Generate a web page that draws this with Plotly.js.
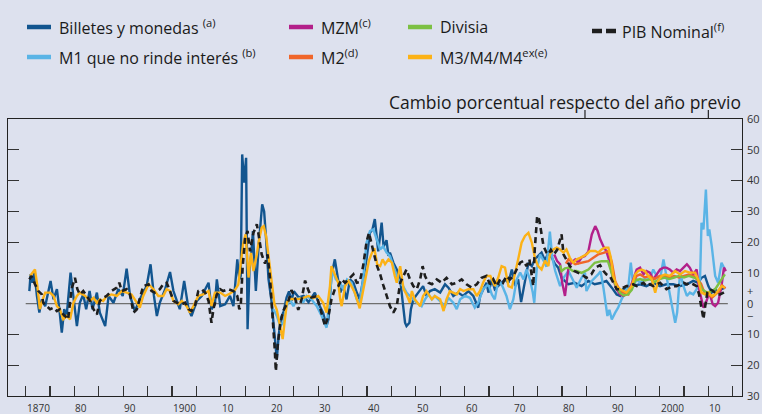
<!DOCTYPE html>
<html>
<head>
<meta charset="utf-8">
<script src="https://cdn.plot.ly/plotly-3.0.1.min.js"></script>
<style>html,body{margin:0;padding:0;background:#dde1ee;}#chart{width:762px;height:414px;}</style>
</head>
<body>
<div id="chart"></div>
<script>
// ---------- DATA ----------
const billetesYears = [1870.75,1871.0,1871.4,1871.8,1872.3,1872.8,1873.3,1874.0,1874.6,1875.1,1875.7,1876.4,1876.9,1877.4,1877.9,1878.4,1879.2,1879.8,1880.5,1881.1,1881.8,1882.4,1883.1,1883.7,1884.6,1885.2,1886.3,1887.0,1888.0,1889.0,1889.9,1890.7,1891.4,1892.4,1893.4,1894.8,1895.6,1896.3,1896.9,1897.5,1898.6,1899.6,1900.3,1901.6,1902.5,1903.4,1904.0,1905.1,1906.1,1907.5,1908.1,1908.8,1909.2,1909.9,1910.9,1911.9,1912.6,1913.4,1913.8,1914.1,1914.4,1914.8,1915.2,1915.5,1915.9,1916.3,1916.6,1917.2,1917.8,1918.5,1918.9,1919.3,1919.8,1920.4,1920.8,1921.2,1921.5,1921.9,1922.4,1922.9,1923.5,1924.0,1924.5,1925.0,1926.0,1927.0,1928.0,1929.3,1930.3,1931.0,1931.7,1932.1,1932.7,1933.4,1933.8,1934.5,1935.1,1935.8,1936.5,1937.2,1937.9,1938.5,1939.2,1939.9,1940.6,1941.1,1941.6,1942.3,1943.0,1943.4,1944.0,1944.4,1944.7,1945.4,1946.1,1946.8,1947.1,1947.8,1948.1,1948.7,1949.0,1949.5,1950.5,1951.5,1952.2,1952.9,1953.9,1955.0,1956.0,1956.7,1957.7,1958.7,1959.7,1960.8,1961.8,1962.8,1963.2,1963.8,1964.5,1964.9,1965.6,1966.2,1966.9,1967.6,1968.3,1969.0,1969.7,1970.4,1971.0,1971.6,1972.4,1973.1,1973.8,1974.4,1975.1,1975.8,1976.5,1977.2,1977.9,1978.5,1979.2,1979.9,1980.6,1981.3,1982.6,1984.0,1985.4,1986.7,1988.1,1989.1,1990.2,1991.2,1991.9,1992.5,1993.2,1994.6,1996.0,1997.3,1998.7,2000.1,2001.4,2002.8,2004.2,2005.6,2006.9,2007.9,2008.6,2009.3,2010.0,2010.7,2011.4,2012.0,2012.7,2013.4];
const billetesVals = [4.1,9.5,6.8,10.1,2.5,-2.9,1.4,-0.8,3.6,7.4,1.4,4.7,-1.8,-9.4,-1.8,-4.0,10.1,2.5,-7.3,0.3,3.0,-1.8,4.1,-1.8,3.6,-2.9,-7.3,2.5,0.3,4.7,2.5,11.4,2.5,-2.4,1.4,5.7,12.8,2.5,-4.0,0.3,4.7,10.3,4.1,-1.8,7.4,-1.8,-4.0,0.9,2.5,6.8,-1.8,-0.2,7.9,-0.8,-0.2,2.5,-0.8,14.4,7.9,9.0,48.5,39.3,47.4,-8.3,11.1,16.6,23.6,4.1,19.3,32.3,30,21,8,1,-7,-14,-18,-10,-4.5,-2.5,2,4,1,4,2,2.5,0.5,3.6,-0.8,-3,-7.3,-5,9,14.4,10,3.6,5.7,1.4,7.9,6.8,3.6,1.4,7.9,14.4,23,24,27.5,17,26.3,18.5,20.6,15.5,16.6,13.3,11.1,7.9,3.6,-6.2,-7.3,-6.2,-1.8,1.4,3.6,5.7,2.5,4.1,4.7,3.6,6.3,5.2,2.5,3.6,2.5,4.1,2.5,-1.3,2.5,4.7,6.8,3.6,7.9,4.7,5.7,6.8,7.9,6.8,11.1,5.7,7.9,0.5,7.9,13.3,12.2,14.4,15.5,16.6,14,16.6,14.9,13,11.7,8.4,7.3,6.3,6.8,5.7,7.4,6.3,6.8,7.4,5.2,3.0,2.5,4.7,5.2,5.7,6.3,5.7,6.8,5.7,6.3,6.3,5.7,6.3,7.4,6.8,8.4,9.0,5.7,3.6,4.7,3.6,4.7,5.2];

const m1Years = [1920.8,1921.5,1922.2,1922.8,1923.5,1924.2,1924.9,1925.6,1926.3,1926.9,1927.6,1928.6,1929.7,1930.7,1931.7,1932.4,1932.9,1933.6,1934.5,1935.1,1935.9,1936.8,1937.9,1938.5,1939.2,1939.9,1940.6,1941.3,1942.0,1942.7,1943.3,1944.0,1944.7,1945.4,1946.1,1946.8,1947.4,1948.1,1948.8,1949.5,1950.2,1951.2,1951.9,1952.6,1953.3,1953.9,1955.0,1956.0,1956.7,1957.7,1958.4,1959.1,1960.1,1961.1,1962.1,1962.8,1963.8,1964.9,1965.6,1966.2,1966.9,1967.6,1968.6,1969.3,1970.0,1970.7,1971.4,1972.1,1972.7,1973.4,1974.0,1974.3,1974.8,1975.5,1976.2,1976.8,1977.5,1978.0,1978.6,1979.6,1980.3,1981.3,1982.0,1983.0,1984.0,1984.7,1985.0,1986.1,1987.4,1987.9,1988.5,1988.9,1989.3,1989.7,1990.2,1990.9,1991.5,1992.2,1992.9,1993.6,1994.1,1994.6,1995.3,1996.0,1996.7,1997.3,1998.0,1998.7,1999.4,2000.1,2000.8,2001.4,2002.1,2002.8,2003.2,2003.6,2004.2,2004.9,2005.6,2006.2,2006.9,2007.6,2008.3,2008.6,2009.0,2009.5,2009.9,2010.2,2010.7,2011.4,2012.0,2012.7,2013.4];
const m1Vals = [-1.8,-4,-7.3,-6.2,-0.8,1.4,-0.8,1.4,1.9,0.3,2.5,1.4,-0.8,-4.0,-7.8,2.5,11.1,7.9,6.8,4.7,7.9,6.8,1.4,0.3,7.9,19.8,23.6,24.1,20.9,17.6,18.7,16.6,15.5,12.2,9.0,6.8,5.7,3.6,2.5,1.4,0.3,-0.8,1.4,3.0,1.4,2.5,0.9,-0.8,1.9,0.3,-1.8,1.4,2.5,1.9,-1.3,0.3,4.7,6.3,3.0,1.4,7.4,6.3,2.5,-1.8,1.4,7.9,10.1,7.9,11.1,7.9,3.6,0.3,11.1,16,14,12,23.4,15,10.6,5.7,8.4,10.6,8.4,5.2,8.4,10.1,4.1,7.4,9.5,10.5,5,0,-4,-2,-5.1,-2.9,-1.3,1.4,3.6,5.7,13.3,5.7,7.9,6.8,7.9,7.9,7.9,11.1,9.0,7.9,14.4,9.0,3.6,-2.9,-6.2,-2.9,10.1,5.7,2.5,3.6,3.0,4.7,7.9,26.3,24.1,37.1,22,24.1,18.7,9.0,6.8,13.3,11.1];

const mzmYears = [1978.4,1979.0,1979.6,1980.0,1980.6,1981.0,1981.3,1981.9,1982.7,1983.3,1984.0,1984.7,1985.4,1986.1,1986.8,1987.3,1987.8,1988.5,1989.1,1989.8,1990.5,1991.2,1991.9,1992.6,1993.6,1994.6,1995.3,1996.0,1996.7,1997.3,1998.0,1998.7,1999.4,2000.1,2000.8,2001.4,2002.1,2002.8,2003.5,2004.2,2004.9,2005.6,2006.2,2006.9,2007.6,2008.1,2008.6,2009.0,2009.5,2010.2,2010.9,2011.4,2012.0,2012.7,2013.2,2013.6];
const mzmVals = [16,13.8,12.8,7,2.5,8,11.5,13.3,14.4,13.3,15,15.5,17,22.5,25.2,23.6,21,18.5,17,13.3,7.9,4.7,3.0,2.5,3.6,7.9,11.1,11.7,9.5,10.6,10.1,7.9,9.5,11.1,11.7,11.7,11.1,10.1,11.1,10.6,11.7,12.8,11.7,9.5,11.1,4.7,1.4,-1.3,0.3,3.6,-0.2,-0.8,0.3,5.7,11.7,10.6];

const m2Years = [1980.8,1981.3,1982.7,1984.0,1985.4,1986.4,1987.4,1988.5,1989.5,1990.2,1990.9,1991.9,1992.6,1993.6,1994.6,1995.3,1996.0,1997.0,1998.0,1999.0,2000.0,2001.0,2002.0,2003.0,2004.0,2005.0,2006.0,2007.0,2007.8,2008.5,2009.2,2010.0,2010.8,2011.5,2012.2,2012.8,2013.5];
const m2Vals = [13,14.4,12.8,13.3,13.8,14.9,16,16.5,17.1,13.5,7.3,4.1,3.6,3.0,7.0,9.0,9.5,8.5,9.0,8.0,9.0,9.0,8.5,9.0,8.5,9.0,9.5,9.0,7.5,6.5,3.5,3.0,2.0,3.0,4.0,6.0,5.0];

const divisiaYears = [1979.6,1979.9,1980.6,1981.3,1982.2,1983.0,1984.0,1985.4,1986.7,1988.1,1989.4,1990.0,1990.9,1991.9,1992.6,1993.5,1994.3,1995.0,1996.0,1997.0,1998.0,1999.0,2000.0,2001.0,2002.0,2003.0,2004.0,2005.0,2006.0,2007.0,2007.9,2008.7,2009.7,2010.5,2011.4,2012.7,2013.4];
const divisiaVals = [12.5,10.6,11.5,11.7,10.6,10.6,10,11.1,13.3,13.8,13.8,11,6.3,3.5,2.7,3.0,4.5,7.5,8.0,7.5,8.0,7.0,8.0,8.5,8.0,8.5,9.0,8.5,9.0,8.5,7.9,4.7,3.6,4.0,4.7,7.9,9.5];

const m3Years = [1870.9,1871.6,1871.9,1872.4,1872.9,1873.5,1874.0,1875.0,1875.7,1876.4,1877.0,1877.7,1878.4,1879.1,1879.8,1880.5,1881.1,1882.2,1883.2,1883.9,1884.6,1885.2,1885.9,1886.6,1887.6,1888.7,1889.7,1890.7,1891.7,1892.8,1893.4,1894.1,1895.2,1896.2,1897.2,1898.2,1898.9,1899.6,1900.3,1901.3,1902.0,1903.0,1903.7,1904.4,1905.4,1906.4,1907.5,1908.1,1908.8,1909.9,1910.9,1911.9,1912.9,1913.6,1914.1,1914.6,1915.1,1915.7,1916.2,1916.7,1917.4,1917.8,1918.4,1918.8,1919.3,1920.0,1920.5,1921.0,1921.5,1922.1,1922.7,1923.2,1923.6,1924.2,1925.0,1925.9,1926.9,1928.0,1929.0,1930.0,1931.0,1931.7,1932.4,1932.7,1933.4,1934.1,1934.5,1934.8,1935.5,1936.2,1936.8,1937.5,1938.5,1939.2,1939.9,1940.4,1941.0,1941.5,1942.1,1942.7,1943.2,1943.7,1944.4,1945.1,1945.7,1946.1,1946.8,1947.5,1948.1,1948.8,1949.2,1949.8,1950.9,1951.5,1952.2,1953.3,1953.9,1955.0,1955.7,1956.3,1957.0,1957.7,1958.4,1959.1,1959.8,1960.8,1961.8,1962.5,1963.2,1963.8,1964.5,1965.3,1966.2,1966.9,1967.6,1968.3,1969.0,1969.7,1970.3,1971.0,1971.7,1972.4,1973.1,1973.8,1974.5,1975.1,1975.8,1976.5,1977.2,1977.5,1978.2,1978.9,1979.6,1980.3,1980.9,1981.6,1982.3,1983.0,1983.7,1984.4,1985.0,1985.7,1986.8,1987.4,1988.1,1988.8,1989.5,1990.0,1990.5,1991.2,1991.9,1992.6,1993.2,1994.3,1995.0,1995.6,1996.3,1997.0,1997.7,1998.4,1999.1,1999.7,2000.4,2001.1,2002.1,2003.2,2004.2,2005.2,2006.2,2007.3,2007.9,2008.6,2009.3,2010.0,2010.7,2011.4,2012.0,2012.7,2013.4];
const m3Vals = [9,10.3,11.1,5.7,-1.8,1.4,3.6,3.6,2.5,-0.8,-1.8,-5.1,-4,-5.1,0.3,2.5,3.6,2.5,0.9,1.9,0.3,1.4,0.9,2.5,3.0,2.5,4.1,3.6,3.0,0.3,-1.3,2.5,6.3,4.7,2.5,2.5,4.7,4.1,0.9,-0.2,0.9,-0.8,-2.9,-0.8,2.5,3.0,4.1,-0.8,3.6,3.6,2.5,3.3,4.4,6.2,12.2,19.5,22.5,8.5,16.5,10.6,16,20.3,24.7,25.2,22,13,6,0,-2,-6.7,-11.5,-4.5,0.5,1.5,1.5,1.5,1.9,2.5,1.8,2.5,0.3,-2.9,5.7,12.2,9.5,6.8,1.4,-0.8,5.7,7.4,5.7,3.6,-1.5,4,10.1,14,16.5,18,12.7,12.2,14.4,12.8,14.4,13.3,9.0,6.8,12.2,4.7,3.0,0.3,4.1,1.4,-0.8,2.5,4.1,1.4,2.5,1.4,-2.4,1.4,4.1,3.6,3.0,4.7,4.1,4.7,4.7,2.5,4.2,6.8,9.0,9.0,5.7,8.4,12.2,11.7,5.7,5.2,9.0,14.4,19.8,22,23,19.8,14.4,12.2,11.1,14,12.2,16,17.6,18.2,17.6,16.6,17.6,14.9,13.3,14.4,14.9,15.5,16,17.1,17.1,16.6,17.6,18.2,18.2,15,9.0,5.7,4.7,4.1,3.6,5.7,9.5,10.6,11.1,10.6,9.0,7.9,3.6,7.4,9.0,9.5,9.0,10.6,9.5,10.6,10.1,10.1,7.9,3.6,3.0,3.6,2.5,3.0,4.1,5.7,5.2];

const pibYears = [1870.75,1871.2,1871.9,1872.6,1873.3,1873.6,1874.3,1875.0,1875.7,1876.4,1877.0,1877.7,1878.4,1878.7,1879.4,1880.1,1880.6,1881.1,1881.8,1882.5,1883.2,1883.9,1884.6,1885.2,1885.9,1886.6,1887.6,1888.7,1889.2,1889.7,1890.7,1891.4,1892.1,1892.8,1893.4,1894.1,1895.2,1895.8,1896.5,1897.5,1898.2,1898.9,1899.6,1900.3,1901.0,1902.0,1902.7,1903.4,1904.0,1904.7,1905.4,1906.1,1906.8,1907.5,1908.1,1908.5,1909.2,1909.9,1910.5,1911.6,1912.6,1913.4,1913.8,1914.1,1914.5,1915.0,1915.5,1916.0,1916.7,1917.4,1917.7,1918.4,1919.1,1919.6,1920.1,1920.4,1920.8,1921.1,1921.3,1921.7,1922.2,1922.8,1923.9,1924.5,1925.2,1925.9,1926.6,1927.3,1927.9,1928.6,1929.7,1930.7,1931.4,1932.1,1932.7,1933.4,1934.1,1934.8,1935.5,1936.2,1937.2,1937.9,1938.5,1939.2,1939.9,1940.4,1940.8,1941.3,1942.0,1942.7,1943.3,1944.0,1944.7,1945.4,1946.1,1946.8,1947.4,1948.1,1948.8,1949.5,1950.2,1950.9,1951.4,1951.9,1952.6,1953.3,1954.3,1955.3,1956.3,1957.4,1958.4,1959.4,1960.4,1961.5,1962.5,1963.5,1964.5,1965.2,1965.9,1966.6,1967.3,1967.9,1968.6,1969.3,1970.0,1970.7,1971.4,1972.1,1972.7,1973.3,1973.8,1974.1,1974.4,1974.9,1975.3,1975.7,1976.2,1976.8,1977.2,1977.7,1978.3,1979.0,1979.6,1979.9,1980.3,1980.6,1981.6,1982.5,1984.0,1985.0,1986.0,1986.8,1987.8,1988.5,1989.1,1989.8,1990.5,1991.2,1991.9,1992.6,1993.2,1993.9,1994.6,1995.3,1996.0,1996.7,1997.3,1998.0,1998.7,1999.4,2000.1,2000.8,2001.4,2002.1,2002.8,2003.5,2004.2,2004.9,2005.6,2006.2,2006.9,2007.6,2008.1,2008.6,2009.0,2009.3,2009.8,2010.3,2011.0,2011.7,2012.4,2013.1,2013.6];
const pibVals = [7.9,9,6.3,4.1,3.0,0.3,-0.8,-1.8,-1.3,-2.4,-1.8,-3.5,-4.5,-5.1,4.7,8.4,4.7,3.0,4.1,2.5,0.9,-1.8,-3.5,0.9,1.9,2.5,4.1,5.2,6.8,4.1,4.7,3.0,-2.9,-1.8,1.4,5.7,6.3,4.1,3.6,4.7,6.3,6.8,4.1,0.9,0.3,-0.2,0.3,-1.8,-2.4,-0.8,4.1,4.7,3.6,0.9,-6.2,-1.8,3.0,4.7,4.1,4.7,4.1,2.5,-1.8,-0.8,12,21.4,23.6,17,23,25.8,23,16,13,16,8.4,1.9,-6.7,-15.4,-21.9,-13.2,-6.7,-2.4,1,4.4,2,-2,1.5,7.5,4.7,2,2.5,-2.9,-7.3,-4.0,1.4,4.7,5.7,7.9,6.8,7.9,9.5,6.8,7,12.2,20,23,20,17,12.5,9.5,6.2,2.5,-0.8,-2.9,-0.8,6.8,9.0,11.1,7.9,5.7,4.7,7.9,12.2,9.0,6.8,6.3,7.9,6.8,8.4,6.3,6.8,7.9,6.3,5.2,6.3,8.4,9,6.3,7.9,5.7,7.9,6.8,9.0,7.9,9.0,11.1,13.3,13.9,12.2,14.4,9.0,5.7,17.6,28.5,27.4,23,18.7,16.6,16,17.5,16,17.5,21,22.5,16,15,12.2,10.6,9.5,8.4,9.5,11.7,12.5,10.6,9.5,9.0,6.8,4.7,4.7,5.2,5.7,5.7,6.3,5.7,6.3,6.8,5.7,6.3,5.7,6.3,6.8,5.7,4.7,5.2,5.7,5.7,6.3,6.8,6.3,6.8,6.3,5.7,3.0,-0.8,-5,-1.3,3.6,4.7,4.1,3.0,3.0,3.6,4.1];

const seriesNames = ["Billetes y monedas", "M1 que no rinde interés", "MZM", "M2", "Divisia", "M3/M4/M4", "PIB Nominal"];
const seriesNotes = ["(a)", "(b)", "(c)", "(d)", "", "ex(e)", "(f)"];
const xTickYears = [1870,1880,1890,1900,1910,1920,1930,1940,1950,1960,1970,1980,1990,2000,2010];
const xTickLabels = ["1870","80","90","1900","10","20","30","40","50","60","70","80","90","2000","10"];
const yLabelVals = [-30,-20,-10,-4,0,4,10,20,30,40,50,60];
const yLabelText = ["30","20","10","\u2212","0","+","10","20","30","40","50","60"];
const titleText = "Cambio porcentual respecto del año previo";

// ---------- STYLE ----------
const colors = {
  billetes: "#12558f", m1: "#5ab4e6", mzm: "#b3208a", m2: "#f0662a",
  divisia: "#7cc043", m3: "#fcb216", pib: "#1e1e1e"
};
const BG = "#dde1ee";
const W = 762, H = 414;
const M = {l: 8, r: 20, t: 119, b: 18};
const plotW = W - M.l - M.r, plotH = H - M.t - M.b;
const px2paperX = px => (px - M.l) / plotW;
const px2paperY = py => (H - M.b - py) / plotH;
const pxPerYear = 4.876;
const xMin = 1870 - (25.7 - M.l) / pxPerYear;
const xMax = xMin + plotW / pxPerYear;
const FONT = "'Open Sans', 'Noto Sans', sans-serif";

function line(name, xs, ys, color, dash, width) {
  return {type: "scatter", mode: "lines", name: name, x: xs, y: ys,
    line: {color: color, width: width || 2.4, dash: dash || "solid"},
    showlegend: false, hoverinfo: "x+y+name"};
}

const traces = [
  line(seriesNames[0], billetesYears, billetesVals, colors.billetes),
  line(seriesNames[1], m1Years, m1Vals, colors.m1),
  line(seriesNames[2], mzmYears, mzmVals, colors.mzm),
  line(seriesNames[3], m2Years, m2Vals, colors.m2),
  line(seriesNames[4], divisiaYears, divisiaVals, colors.divisia),
  line(seriesNames[5], m3Years, m3Vals, colors.m3),
  line(seriesNames[6], pibYears, pibVals, colors.pib, "6px,4px", 2.6),
  {type: "scatter", mode: "lines", x: [], y: [], yaxis: "y2", showlegend: false, hoverinfo: "skip"}
];

// legend (manual): [sampleLeftPx, textLeftPx, centerYPx, color, dashed, seriesIndex, spaceBeforeNote]
const legendItems = [
  [27, 58, 27, colors.billetes, false, 0, true],
  [27, 58, 57, colors.m1, false, 1, true],
  [289, 320, 27, colors.mzm, false, 2, false],
  [289, 320, 57, colors.m2, false, 3, false],
  [408, 439, 27, colors.divisia, false, 4, false],
  [408, 439, 57, colors.m3, false, 5, false],
  [592, 621, 31, colors.pib, true, 6, false]
];

const shapes = [
  {type: "line", xref: "x", yref: "y", x0: 1870, x1: 2014, y0: 0, y1: 0,
   line: {color: "#6f6f6f", width: 1.2}, layer: "below"},
  {type: "line", xref: "x", yref: "paper", x0: 1984.7, x1: 1984.7, y0: 1, y1: 1 + 9 / plotH,
   line: {color: "#222", width: 1.2}},
  {type: "line", xref: "x", yref: "paper", x0: 2010, x1: 2010, y0: 1, y1: 1 + 9 / plotH,
   line: {color: "#222", width: 1.2}}
];
const annotations = [];
legendItems.forEach(it => {
  const [sx, tx, cy, col, dashed, idx, sp] = it;
  const segs = dashed ? [[sx, sx + 10], [sx + 14, sx + 24]] : [[sx, sx + 24]];
  segs.forEach(s => shapes.push({type: "line", xref: "paper", yref: "paper",
    x0: px2paperX(s[0]), x1: px2paperX(s[1]), y0: px2paperY(cy), y1: px2paperY(cy),
    line: {color: col, width: 4.5}}));
  const note = seriesNotes[idx] ? (sp ? " " : "") + "<sup>" + seriesNotes[idx] + "</sup>" : "";
  annotations.push({xref: "paper", yref: "paper", x: px2paperX(tx), y: px2paperY(cy),
    xanchor: "left", yanchor: "middle", showarrow: false, text: seriesNames[idx] + note,
    font: {family: FONT, size: 16, color: "#1a1a1a"}, borderpad: 0});
});
xTickYears.forEach((yr, i) => {
  annotations.push({xref: "x", yref: "paper", x: yr, y: px2paperY(408), xanchor: "left", yanchor: "middle",
    showarrow: false, text: xTickLabels[i], font: {family: FONT, size: 10, color: "#333"}, borderpad: 0});
});

const layout = {
  width: W, height: H,
  paper_bgcolor: BG, plot_bgcolor: BG,
  margin: {l: M.l, r: M.r, t: M.t, b: M.b, pad: 0, autoexpand: false},
  showlegend: false,
  font: {family: FONT, color: "#222"},
  title: {text: titleText, xref: "container", yref: "container", x: 741 / W, xanchor: "right",
    y: 1 - 103 / H, yanchor: "middle", font: {family: FONT, size: 17.5, color: "#1a1a1a"}},
  xaxis: {range: [xMin, xMax], tickmode: "linear", tick0: 1870, dtick: 5,
    ticks: "inside", ticklen: 10, tickwidth: 1.2, tickcolor: "#333",
    showticklabels: false, showline: true, linecolor: "#222", linewidth: 1.2, mirror: true,
    showgrid: false, zeroline: false, fixedrange: true},
  yaxis: {range: [-30, 60], tickmode: "array", tickvals: [-20,-10,10,20,30,40,50],
    ticks: "inside", ticklen: 11, tickwidth: 1.2, tickcolor: "#333",
    showticklabels: false, showline: true, linecolor: "#222", linewidth: 1.2, mirror: "ticks",
    showgrid: false, zeroline: false, fixedrange: true},
  yaxis2: {overlaying: "y", side: "right", anchor: "x", range: [-30, 60], tickmode: "array",
    tickvals: yLabelVals, ticktext: yLabelText, ticks: "", showline: false, showgrid: false, zeroline: false,
    ticklabelstandoff: 4, tickfont: {family: FONT, size: 11, color: "#333"}, fixedrange: true},
  shapes: shapes,
  annotations: annotations
};
Plotly.newPlot("chart", traces, layout, {displayModeBar: false, staticPlot: true});
</script>
</body>
</html>
